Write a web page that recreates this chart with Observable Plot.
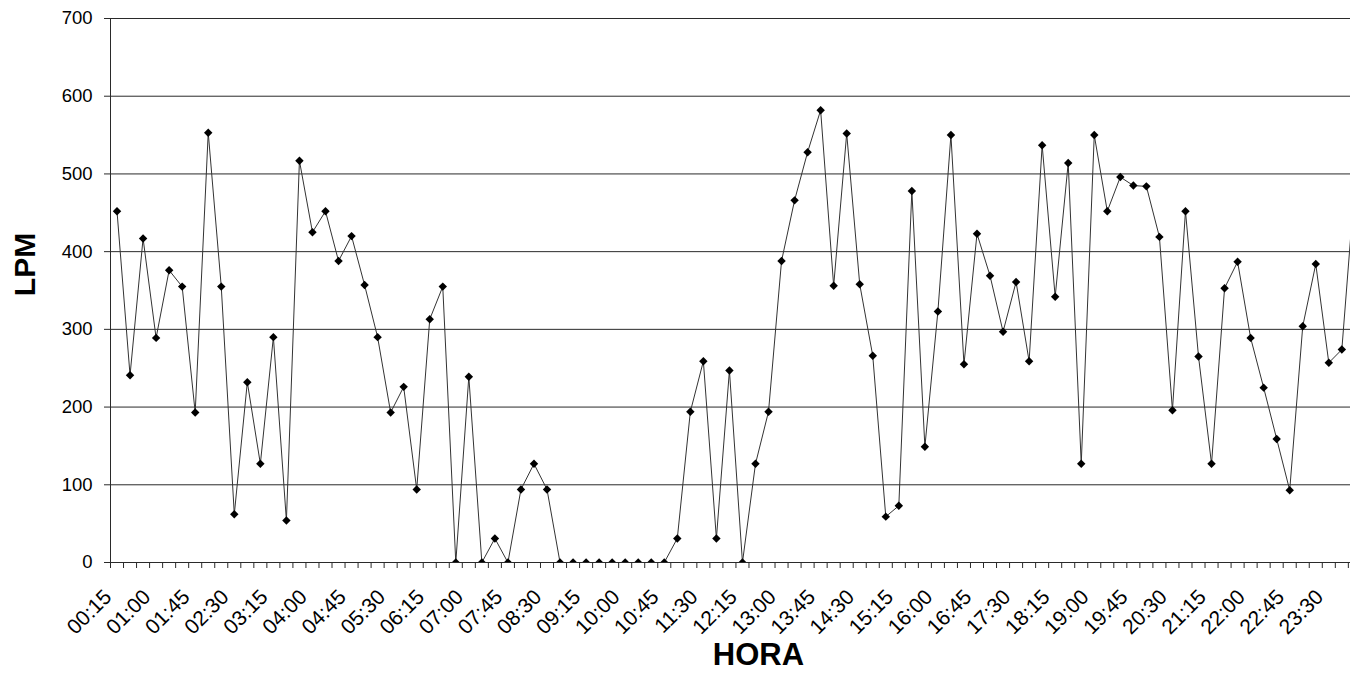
<!DOCTYPE html>
<html>
<head>
<meta charset="utf-8">
<script src="https://cdn.jsdelivr.net/npm/d3@7"></script>
<script src="https://cdn.jsdelivr.net/npm/@observablehq/plot@0.6"></script>
<style>
html, body { margin: 0; padding: 0; background: #fff; overflow: hidden; }
</style>
</head>
<body>
<div id="chart"></div>
<script>
// LPM readings every 15 minutes, 00:15 .. 24:00
const lpm = [
  452, 241, 417, 289, 376, 355, 193, 553, 355, 62,
  232, 127, 290, 54, 517, 425, 452, 388, 420, 357,
  290, 193, 226, 94, 313, 355, 0, 239, 0, 31,
  0, 94, 127, 94, 0, 0, 0, 0, 0, 0,
  0, 0, 0, 31, 194, 259, 31, 247, 0, 127,
  194, 388, 466, 528, 582, 356, 552, 358, 266, 59,
  73, 478, 149, 323, 550, 255, 423, 369, 297, 361,
  259, 537, 342, 514, 127, 550, 452, 496, 485, 484,
  419, 196, 452, 265, 127, 353, 387, 289, 225, 159,
  93, 304, 384, 257, 274, 488
];

const tickLabels = [
  "00:15","01:00","01:45","02:30","03:15","04:00","04:45","05:30",
  "06:15","07:00","07:45","08:30","09:15","10:00","10:45","11:30",
  "12:15","13:00","13:45","14:30","15:15","16:00","16:45","17:30",
  "18:15","19:00","19:45","20:30","21:15","22:00","22:45","23:30"
];

const yTicks = [0, 100, 200, 300, 400, 500, 600, 700];

const times = lpm.map((_, i) => {
  const m = (i + 1) * 15;
  return String(Math.floor(m / 60)).padStart(2, "0") + ":" + String(m % 60).padStart(2, "0");
});
const data = lpm.map((v, i) => ({idx: i + 1, time: times[i], lpm: v}));
const labelIdx = tickLabels.map(t => times.indexOf(t) + 1);
const boundaries = d3.range(0, lpm.length + 1).map(i => i + 0.5);

const diamond = {
  draw(ctx, size) {
    const r = Math.sqrt(size) * 0.62625;
    ctx.moveTo(0, -r); ctx.lineTo(r, 0); ctx.lineTo(0, r); ctx.lineTo(-r, 0); ctx.closePath();
  }
};

const font = "'Liberation Sans', Arial, Helvetica, sans-serif";
const step = 13.03;

const chart = Plot.plot({
  width: 1350,
  height: 689,
  marginTop: 18,
  marginBottom: 127,
  marginLeft: 110,
  marginRight: 0,
  style: {fontFamily: font, background: "#fff", color: "#000"},
  x: {type: "linear", domain: [0.5, lpm.length + 0.5], range: [110, 110 + lpm.length * step]},
  y: {domain: [0, 700]},
  marks: [
    Plot.ruleY(yTicks.filter(d => d > 0), {stroke: "#2a2a2a", strokeWidth: 1}),
    Plot.ruleY([0], {stroke: "#2a2a2a", strokeWidth: 1}),
    Plot.ruleX([0.5], {stroke: "#2a2a2a", strokeWidth: 1}),
    Plot.axisY(yTicks, {tickSize: 6, tickPadding: 12, fontSize: 18.5, label: null, stroke: "#2a2a2a"}),
    Plot.axisX(boundaries, {tickSize: 6, tickFormat: () => "", label: null, stroke: "#2a2a2a"}),
    Plot.text(labelIdx, {
      x: d => d, frameAnchor: "bottom", text: (d, i) => tickLabels[i],
      rotate: -45, textAnchor: "end", lineAnchor: "middle", dx: -9, dy: 31, fontSize: 21, fill: "#000"
    }),
    Plot.line(data, {x: "idx", y: "lpm", stroke: "#333", strokeWidth: 1, clip: true}),
    Plot.dot(data, {x: "idx", y: "lpm", symbol: diamond, r: 3.8, fill: "#000", stroke: null, clip: true}),
    Plot.text(["LPM"], {
      frameAnchor: "left", text: d => d, rotate: -90, textAnchor: "middle", lineAnchor: "middle",
      dx: -85, dy: -26, fontSize: 30, fontWeight: "bold", fill: "#000"
    }),
    Plot.text(["HORA"], {
      frameAnchor: "bottom", text: d => d, textAnchor: "middle", lineAnchor: "middle",
      dx: 28, dy: 93, fontSize: 31, fontWeight: "bold", fill: "#000"
    })
  ]
});

document.getElementById("chart").appendChild(chart);
</script>
</body>
</html>
